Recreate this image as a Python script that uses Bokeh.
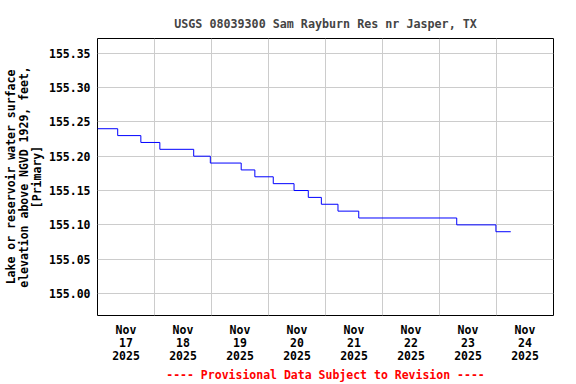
import pandas as pd
from bokeh.plotting import figure
from bokeh.models import FixedTicker, DatetimeTickFormatter, Range1d, NumeralTickFormatter
from bokeh.embed import file_html
from bokeh.resources import INLINE

# Gage height readings (change points of the stepped record)
times = [
    "2025-11-17 00:00", "2025-11-17 08:30", "2025-11-17 18:15", "2025-11-18 02:15",
    "2025-11-18 16:30", "2025-11-18 23:30", "2025-11-19 12:30", "2025-11-19 18:15",
    "2025-11-20 02:00", "2025-11-20 10:45", "2025-11-20 16:45", "2025-11-20 22:15",
    "2025-11-21 05:15", "2025-11-21 14:00", "2025-11-23 07:15", "2025-11-23 23:45",
    "2025-11-24 06:00",
]
elevation = [
    155.24, 155.23, 155.22, 155.21,
    155.20, 155.19, 155.18, 155.17,
    155.16, 155.15, 155.14, 155.13,
    155.12, 155.11, 155.10, 155.09,
    155.09,
]
y_ticks = [155.00, 155.05, 155.10, 155.15, 155.20, 155.25, 155.30, 155.35]
day_labels = ["2025-11-17", "2025-11-18", "2025-11-19", "2025-11-20",
              "2025-11-21", "2025-11-22", "2025-11-23", "2025-11-24"]

title_text = "USGS 08039300 Sam Rayburn Res nr Jasper, TX"
y_label = "Lake or reservoir water surface\nelevation above NGVD 1929, feet,\n[Primary]"
footer = "---- Provisional Data Subject to Revision ----"

t = pd.to_datetime(times)
days = pd.to_datetime(day_labels)
x_start = days[0]
x_end = days[-1] + pd.Timedelta(days=1)

def ms(ts):
    return ts.value / 1e6

FONT = "DejaVu Sans Mono"
FS = "11.5px"

p = figure(frame_width=456, frame_height=277, x_axis_type="datetime",
           output_backend="svg", toolbar_location=None,
           x_range=Range1d(ms(x_start), ms(x_end)),
           y_range=Range1d(154.968, 155.3714),
           min_border_left=90, min_border_right=14,
           min_border_top=38, min_border_bottom=62,
           title=title_text)

p.title.align = "center"
p.title.text_font = FONT
p.title.text_font_size = "11.7px"
p.title.text_font_style = "bold"
p.title.standoff = 16

p.outline_line_color = "black"
p.outline_line_width = 1
p.outline_line_alpha = 1

p.step(t, elevation, mode="after", line_color="#0000ff", line_width=1)

# grids
p.xgrid.ticker = FixedTicker(ticks=[ms(d) for d in days[1:]])
p.ygrid.ticker = FixedTicker(ticks=y_ticks)
for g in (p.xgrid, p.ygrid):
    g.grid_line_color = "#cccccc"
    g.grid_line_width = 1

# axes
xa = p.xaxis[0]
xa.ticker = FixedTicker(ticks=[ms(d + pd.Timedelta(hours=12)) for d in days])
fmt = "%b\n%d\n%Y"
xa.formatter = DatetimeTickFormatter(
    microseconds=fmt, milliseconds=fmt, seconds=fmt, minsec=fmt, minutes=fmt,
    hourmin=fmt, hours=fmt, days=fmt, months=fmt, years=fmt)
xa.axis_label = footer

ya = p.yaxis[0]
ya.ticker = FixedTicker(ticks=y_ticks)
ya.formatter = NumeralTickFormatter(format="0.00")
ya.axis_label = y_label

for ax in (xa, ya):
    ax.axis_line_color = None
    ax.major_tick_line_color = None
    ax.minor_tick_line_color = None
    ax.major_tick_out = 0
    ax.major_tick_in = 0
    ax.minor_tick_out = 0
    ax.minor_tick_in = 0
    ax.major_label_text_font = FONT
    ax.major_label_text_font_size = FS
    ax.major_label_text_font_style = "bold"
    ax.major_label_text_color = "black"
    ax.axis_label_text_font = FONT
    ax.axis_label_text_font_size = FS
    ax.axis_label_text_font_style = "bold"
    ax.major_label_text_line_height = 0.94
    ax.axis_label_text_line_height = 0.94
    ax.major_label_standoff = 7

xa.axis_label_standoff = 2
ya.axis_label_standoff = 2
xa.axis_label_text_color = "#ff0000"
ya.axis_label_text_color = "black"

open("out.html", "w").write(file_html(p, INLINE))
